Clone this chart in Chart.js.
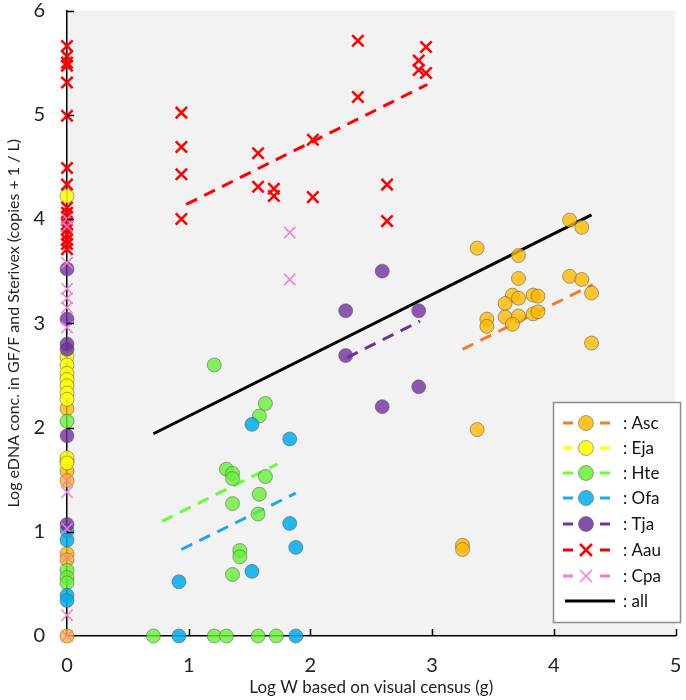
<!DOCTYPE html>
<html>
<head>
<meta charset="utf-8">
<script src="https://cdn.jsdelivr.net/npm/chart.js@4"></script>
<style>
  html, body { margin: 0; padding: 0; background: #fff; }
  #wrap { width: 686px; height: 700px; }
</style>
</head>
<body>
<div id="wrap"><canvas id="chartMain" width="686" height="700"></canvas></div>
<script>
// x = Log W (visual census), y = Log eDNA conc.
const ascX = [4.13, 4.23, 3.37, 3.71, 3.71, 4.13, 4.23, 4.31, 3.66, 3.71, 3.83, 3.87, 3.60, 3.45, 3.45, 3.60, 3.71, 3.83, 3.87, 3.66, 4.31, 3.37, 3.25, 3.25, 0, 0, 0, 0, 0, 0, 0];
const ascY = [3.99, 3.92, 3.72, 3.65, 3.43, 3.45, 3.42, 3.29, 3.27, 3.24, 3.27, 3.26, 3.19, 3.04, 2.97, 3.06, 3.07, 3.09, 3.11, 2.99, 2.81, 1.98, 0.87, 0.83, 2.18, 1.68, 1.58, 1.49, 0.79, 0.73, 0];

const ejaX = [0, 0, 0, 0, 0, 0, 0, 0, 0, 0];
const ejaY = [4.22, 2.68, 2.60, 2.52, 2.46, 2.40, 2.33, 2.27, 1.71, 1.66];

const hteX = [1.21, 1.63, 1.58, 1.31, 1.36, 1.36, 1.63, 1.58, 1.36, 1.57, 1.42, 1.42, 1.36, 0.71, 1.21, 1.31, 1.57, 1.72, 0, 0, 0, 0];
const hteY = [2.60, 2.23, 2.11, 1.60, 1.56, 1.51, 1.53, 1.36, 1.27, 1.17, 0.82, 0.76, 0.59, 0, 0, 0, 0, 0, 2.06, 0.63, 0.56, 0.51];

const ofaX = [1.52, 1.83, 1.83, 1.88, 1.52, 0.92, 0.92, 1.88, 0, 0, 0, 0];
const ofaY = [2.03, 1.89, 1.08, 0.85, 0.62, 0.52, 0, 0, 1.01, 0.92, 0.39, 0.34];

const tjaX = [2.59, 2.29, 2.89, 2.29, 2.89, 2.59, 0, 0, 0, 0, 0, 0];
const tjaY = [3.50, 3.12, 3.12, 2.69, 2.39, 2.20, 3.52, 3.04, 2.80, 2.75, 1.92, 1.07];

const aauX = [0.94, 0.94, 0.94, 0.94, 1.57, 1.57, 1.70, 1.70, 2.02, 2.02, 2.39, 2.39, 2.63, 2.63, 2.89, 2.89, 2.95, 2.95,
  0, 0, 0, 0, 0, 0, 0, 0, 0, 0, 0, 0, 0, 0, 0, 0, 0];
const aauY = [5.02, 4.69, 4.43, 4.00, 4.63, 4.31, 4.29, 4.22, 4.76, 4.21, 5.71, 5.17, 4.33, 3.98, 5.52, 5.43, 5.65, 5.40,
  5.66, 5.56, 5.50, 5.47, 5.31, 4.99, 4.49, 4.33, 4.11, 4.06, 4.02, 3.95, 3.90, 3.85, 3.80, 3.76, 3.71];

const cpaX = [1.83, 1.83, 0, 0, 0, 0, 0, 0, 0, 0, 0, 0, 0, 0, 0];
const cpaY = [3.87, 3.42, 4.00, 3.93, 3.58, 3.33, 3.24, 3.15, 2.96, 1.49, 1.38, 1.03, 0.75, 0.20, 0];

// regression lines (end points)
const ascFitX = [3.25, 4.32], ascFitY = [2.75, 3.37];
const hteFitX = [0.78, 1.73], hteFitY = [1.10, 1.65];
const ofaFitX = [0.94, 1.88], ofaFitY = [0.83, 1.37];
const tjaFitX = [2.30, 2.90], tjaFitY = [2.67, 3.02];
const aauFitX = [0.98, 2.96], aauFitY = [4.14, 5.29];
const allFitX = [0.71, 4.31], allFitY = [1.94, 4.04];

const xTicks = [0, 1, 2, 3, 4, 5];
const yTicks = [0, 1, 2, 3, 4, 5, 6];

const FONT = "Lato, 'Liberation Sans', sans-serif";

const pts = (xs, ys) => xs.map((x, i) => ({ x: x, y: ys[i] }));

const circleSet = (label, xs, ys, fill, order) => ({
  type: 'scatter',
  label: label,
  data: pts(xs, ys),
  pointStyle: 'circle',
  pointRadius: 7,
  backgroundColor: fill,
  borderColor: 'rgba(90, 90, 90, 0.55)',
  borderWidth: 1,
  clip: false,
  order: order
});

const crossSet = (label, xs, ys, color, width, order) => ({
  type: 'scatter',
  label: label,
  data: pts(xs, ys),
  pointStyle: 'crossRot',
  pointRadius: 8,
  backgroundColor: color,
  borderColor: color,
  borderWidth: width,
  clip: false,
  order: order
});

const fitSet = (label, xs, ys, color, dashed) => ({
  type: 'line',
  label: label,
  data: pts(xs, ys),
  borderColor: color,
  borderWidth: 3,
  borderDash: dashed ? [12, 8] : [],
  pointRadius: 0,
  fill: false,
  order: 20
});

const legendItems = [
  { text: ': Asc', kind: 'circle', fill: 'rgba(255, 186, 0, 0.85)', line: '#ed7d31' },
  { text: ': Eja', kind: 'circle', fill: 'rgba(255, 255, 0, 0.9)', line: '#ffff00' },
  { text: ': Hte', kind: 'circle', fill: 'rgba(102, 240, 51, 0.85)', line: '#66ff33' },
  { text: ': Ofa', kind: 'circle', fill: 'rgba(0, 172, 235, 0.85)', line: '#1fa8e6' },
  { text: ': Tja', kind: 'circle', fill: 'rgba(112, 48, 160, 0.85)', line: '#7030a0' },
  { text: ': Aau', kind: 'cross', fill: '#ff0000', line: '#e8000b', w: 2.5 },
  { text: ': Cpa', kind: 'cross', fill: '#f57ad8', line: '#f57ad8', w: 1.5 },
  { text: ': all', kind: 'solid', line: '#000000' }
];

const bgPlugin = {
  id: 'bgPlugin',
  beforeDraw: chart => {
    const { ctx, chartArea } = chart;
    ctx.save();
    ctx.fillStyle = '#f2f2f2';
    ctx.fillRect(chartArea.left, chartArea.top, chartArea.right - chartArea.left, chartArea.bottom - chartArea.top);
    ctx.restore();
  }
};

// inside tick marks on both axes
const tickPlugin = {
  id: 'tickPlugin',
  afterDatasetsDraw: chart => {
    const { ctx, chartArea, scales } = chart;
    ctx.save();
    ctx.strokeStyle = '#000';
    ctx.lineWidth = 1.5;
    ctx.beginPath();
    xTicks.slice(1).forEach(v => {
      const px = Math.round(scales.x.getPixelForValue(v)) + 0.5;
      ctx.moveTo(px, chartArea.bottom);
      ctx.lineTo(px, chartArea.bottom - 7);
    });
    yTicks.slice(1).forEach(v => {
      const py = Math.round(scales.y.getPixelForValue(v)) + 0.5;
      ctx.moveTo(chartArea.left, py);
      ctx.lineTo(chartArea.left + 7, py);
    });
    ctx.stroke();
    ctx.restore();
  }
};

const legendPlugin = {
  id: 'legendPlugin',
  afterDraw: chart => {
    const ctx = chart.ctx;
    const box = { l: 553.5, t: 402.5, r: 680.5, b: 622.5 };
    ctx.save();
    ctx.fillStyle = '#ffffff';
    ctx.fillRect(box.l, box.t, box.r - box.l, box.b - box.t);
    ctx.strokeStyle = '#8c8c8c';
    ctx.lineWidth = 1.5;
    ctx.strokeRect(box.l, box.t, box.r - box.l, box.b - box.t);

    const rowY = [423, 448, 473, 498, 524, 550, 576, 601];
    legendItems.forEach((it, i) => {
      const y = rowY[i];
      ctx.lineWidth = 3;
      ctx.strokeStyle = it.line;
      ctx.setLineDash([]);
      ctx.beginPath();
      if (it.kind === 'solid') {
        ctx.moveTo(565, y);
        ctx.lineTo(615, y);
      } else {
        ctx.moveTo(563, y);
        ctx.lineTo(573, y);
        ctx.moveTo(600, y);
        ctx.lineTo(610, y);
      }
      ctx.stroke();

      if (it.kind === 'circle') {
        ctx.beginPath();
        ctx.arc(586, y, 7.5, 0, Math.PI * 2);
        ctx.fillStyle = it.fill;
        ctx.fill();
        ctx.lineWidth = 1;
        ctx.strokeStyle = 'rgba(90, 90, 90, 0.55)';
        ctx.stroke();
      } else if (it.kind === 'cross') {
        const s = 6;
        ctx.beginPath();
        ctx.lineWidth = it.w;
        ctx.strokeStyle = it.fill;
        ctx.moveTo(586 - s, y - s);
        ctx.lineTo(586 + s, y + s);
        ctx.moveTo(586 + s, y - s);
        ctx.lineTo(586 - s, y + s);
        ctx.stroke();
      }

      ctx.fillStyle = '#111';
      ctx.font = '17px ' + FONT;
      ctx.textAlign = 'left';
      ctx.textBaseline = 'middle';
      ctx.fillText(it.text, 623, y + 1);
    });
    ctx.restore();
  }
};

const chartMain = new Chart(document.getElementById('chartMain'), {
  type: 'scatter',
  data: {
    datasets: [
      crossSet('Cpa', cpaX, cpaY, '#f57ad8', 1.5, 1),
      crossSet('Aau', aauX, aauY, '#ff0000', 2.5, 2),
      circleSet('Tja', tjaX, tjaY, 'rgba(112, 48, 160, 0.8)', 3),
      circleSet('Ofa', ofaX, ofaY, 'rgba(0, 172, 235, 0.85)', 4),
      circleSet('Hte', hteX, hteY, 'rgba(102, 240, 51, 0.8)', 5),
      circleSet('Eja', ejaX, ejaY, 'rgba(255, 255, 0, 0.85)', 6),
      circleSet('Asc', ascX, ascY, 'rgba(255, 186, 0, 0.8)', 7),
      fitSet('Asc fit', ascFitX, ascFitY, '#ed7d31', true),
      fitSet('Hte fit', hteFitX, hteFitY, '#66ff33', true),
      fitSet('Ofa fit', ofaFitX, ofaFitY, '#1fa8e6', true),
      fitSet('Tja fit', tjaFitX, tjaFitY, '#7030a0', true),
      fitSet('Aau fit', aauFitX, aauFitY, '#ff0000', true),
      fitSet('all', allFitX, allFitY, '#000000', false)
    ]
  },
  options: {
    responsive: false,
    animation: false,
    events: [],
    layout: { padding: { top: 7, right: 3, left: 0, bottom: 0 } },
    plugins: {
      legend: { display: false },
      tooltip: { enabled: false }
    },
    scales: {
      x: {
        type: 'linear',
        min: 0,
        max: 5,
        afterFit: scale => {
          scale.height = 64;
          scale.paddingLeft = 0;
          scale.paddingRight = 0;
        },
        afterBuildTicks: scale => { scale.ticks = xTicks.map(v => ({ value: v })); },
        grid: { display: false },
        border: { display: true, color: '#000', width: 1.5 },
        ticks: { color: '#222', padding: 10, font: { size: 20, family: FONT } },
        title: {
          display: true,
          text: 'Log W based on visual census (g)',
          color: '#222',
          font: { size: 17, family: FONT },
          padding: { top: 0, bottom: 2 }
        }
      },
      y: {
        type: 'linear',
        min: 0,
        max: 6,
        afterFit: scale => {
          scale.width = 67;
          scale.paddingTop = 0;
          scale.paddingBottom = 0;
        },
        afterBuildTicks: scale => { scale.ticks = yTicks.map(v => ({ value: v })); },
        grid: { display: false },
        border: { display: true, color: '#000', width: 1.5 },
        ticks: { color: '#222', padding: 14, font: { size: 20, family: FONT } },
        title: {
          display: true,
          text: 'Log eDNA conc. in GF/F and Sterivex (copies + 1 / L)',
          color: '#222',
          font: { size: 16, family: FONT },
          padding: { top: 4, bottom: 0 }
        }
      }
    }
  },
  plugins: [bgPlugin, tickPlugin, legendPlugin]
});
</script>
</body>
</html>
